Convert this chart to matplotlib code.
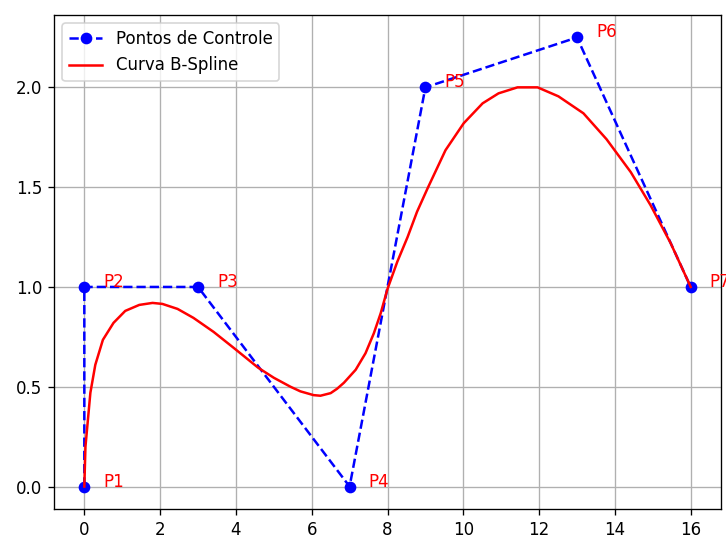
import matplotlib
matplotlib.use('Agg')
import matplotlib.pyplot as plt

# pontos de controle
ctrl_x = [0, 0, 3, 7, 9, 13, 16]
ctrl_y = [0, 1, 1, 0, 2, 2.25, 1]
ctrl_labels = ['P1', 'P2', 'P3', 'P4', 'P5', 'P6', 'P7']

# curva
curve_x = [0, 0.03, 0.16, 0.29, 0.49, 0.77, 1.08, 1.45, 1.80, 2.06, 2.46, 2.88,
           3.41, 3.94, 4.59, 5.0, 5.44, 5.70, 6.05, 6.23, 6.50, 6.67, 6.85, 7.16,
           7.42, 7.64, 7.82, 8.0, 8.26, 8.53, 8.78, 9.06,
           9.53, 10.01, 10.51, 10.93, 11.43, 11.96, 12.51, 13.17, 13.78, 14.42,
           14.94, 15.47, 16.0]
curve_y = [0, 0.20, 0.47, 0.61, 0.735, 0.82, 0.88, 0.91, 0.92, 0.915, 0.89, 0.845,
           0.775, 0.695, 0.595, 0.545, 0.50, 0.477, 0.458, 0.455, 0.468, 0.49, 0.52, 0.585,
           0.668, 0.768, 0.868, 0.99, 1.127, 1.25, 1.377, 1.495,
           1.685, 1.82, 1.92, 1.97, 2.00, 2.00, 1.955, 1.87, 1.74, 1.575,
           1.41, 1.22, 1.0]

fig = plt.figure(figsize=(726/120, 537/120), dpi=120)
ax = fig.add_axes([54/726, 1 - 509/537, (721 - 54)/726, (509 - 15)/537])

ax.plot(ctrl_x, ctrl_y, 'bo--', label='Pontos de Controle')
ax.plot(curve_x, curve_y, 'r-', label='Curva B-Spline')

for x, y, lab in zip(ctrl_x, ctrl_y, ctrl_labels):
    ax.text(x + 0.5, y, lab, color='red', fontsize=10)

ax.legend(loc='upper left')
ax.grid(True)

plt.savefig('out.png', dpi=120)
